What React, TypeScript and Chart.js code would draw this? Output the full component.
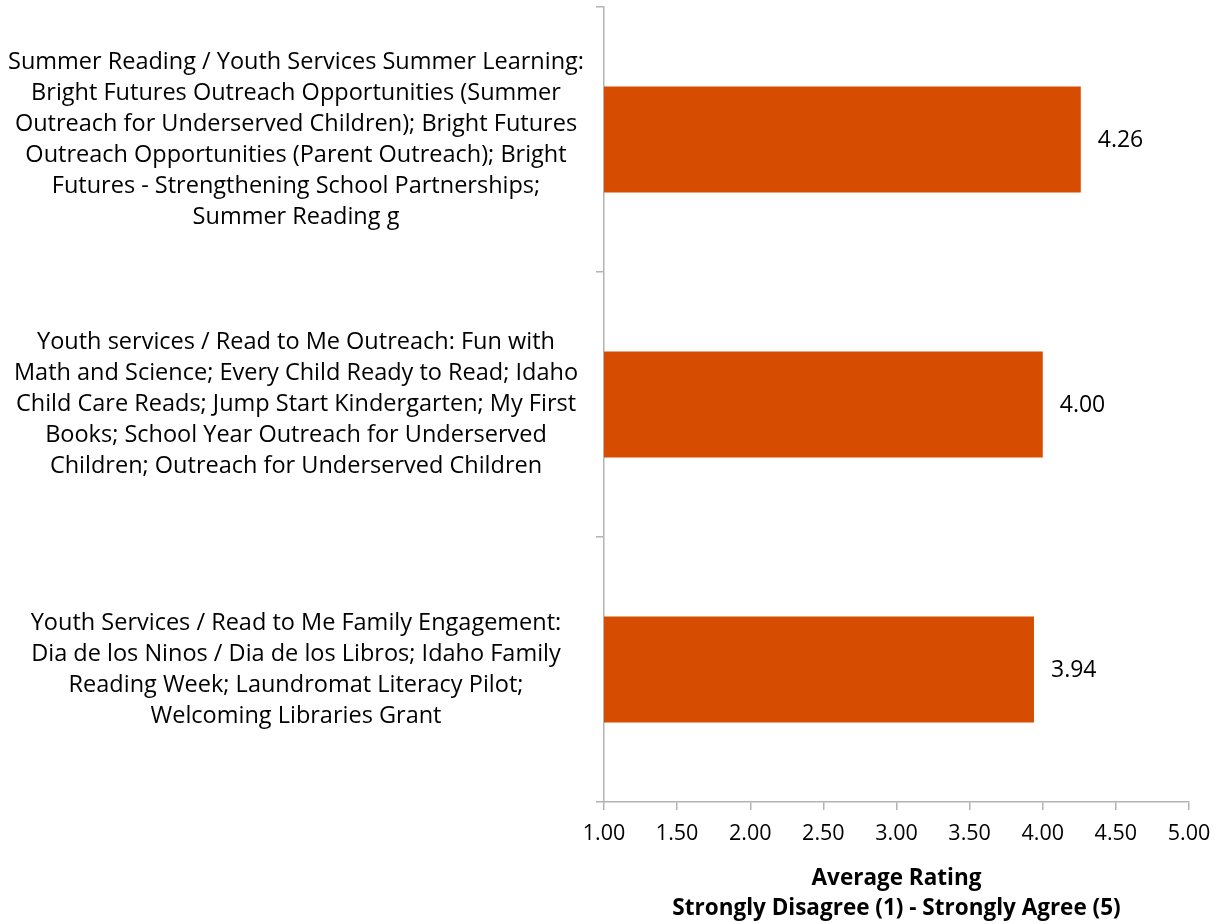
import React, { useEffect, useRef } from "react";
import { Chart, registerables } from "chart.js";

Chart.register(...registerables);

const categories: string[][] = [
  [
    "Summer Reading / Youth Services Summer Learning:",
    "Bright Futures Outreach Opportunities (Summer",
    "Outreach for Underserved Children); Bright Futures",
    "Outreach Opportunities (Parent Outreach); Bright",
    "Futures - Strengthening School Partnerships;",
    "Summer Reading g",
  ],
  [
    "Youth services / Read to Me Outreach: Fun with",
    "Math and Science; Every Child Ready to Read; Idaho",
    "Child Care Reads; Jump Start Kindergarten; My First",
    "Books; School Year Outreach for Underserved",
    "Children; Outreach for Underserved Children",
  ],
  [
    "Youth Services / Read to Me Family Engagement:",
    "Dia de los Ninos / Dia de los Libros; Idaho Family",
    "Reading Week; Laundromat Literacy Pilot;",
    "Welcoming Libraries Grant",
  ],
];

const ratings: number[] = [4.26, 4.0, 3.94];

const xTitle: string[] = ["Average Rating", "Strongly Disagree (1) - Strongly Agree (5)"];

const FONT = "'Open Sans', Lato, sans-serif";
const BAR_COLOR = "#D64C00";
const AXIS_COLOR = "#B3B3B3";

const valueLabelPlugin = {
  id: "valueLabels",
  afterDatasetsDraw(chart: any) {
    const ctx = chart.ctx;
    const meta = chart.getDatasetMeta(0);
    ctx.save();
    ctx.font = `23px ${FONT}`;
    ctx.fillStyle = "#000";
    ctx.textAlign = "left";
    ctx.textBaseline = "middle";
    meta.data.forEach((bar: any, i: number) => {
      const v = chart.data.datasets[0].data[i] as number;
      ctx.fillText(v.toFixed(2), bar.x + 17, bar.y + 1);
    });
    ctx.restore();
  },
};

export default function App() {
  const ref = useRef<HTMLCanvasElement | null>(null);
  useEffect(() => {
    document.body.style.margin = "0";
    const canvas = ref.current!;
    const chart = new Chart(canvas, {
      type: "bar",
      data: {
        labels: categories,
        datasets: [
          {
            data: ratings,
            backgroundColor: BAR_COLOR,
            borderWidth: 0,
            barPercentage: 0.4,
            categoryPercentage: 1,
          },
        ],
      },
      options: {
        indexAxis: "y",
        animation: false,
        responsive: false,
        maintainAspectRatio: false,
        layout: { padding: { top: 7, right: 32, left: 0, bottom: 0 } },
        plugins: {
          legend: { display: false },
          tooltip: { enabled: false },
        },
        scales: {
          x: {
            min: 1,
            max: 5,
            ticks: {
              stepSize: 0.5,
              callback: (v: any) => Number(v).toFixed(2),
              color: "#000",
              font: { family: FONT, size: 21.5 },
              padding: 11,
              maxRotation: 0,
            },
            grid: {
              drawOnChartArea: false,
              drawTicks: true,
              tickLength: 8,
              color: AXIS_COLOR,
              lineWidth: 1.5,
            },
            border: { color: AXIS_COLOR, width: 1.5 },
            title: {
              display: true,
              text: xTitle,
              color: "#000",
              font: { family: FONT, size: 22.5, weight: "bold", lineHeight: 30 / 22.5 },
              padding: { top: 4, bottom: 0 },
            },
            afterFit: (scale: any) => {
              scale.height = 122;
              scale.paddingLeft = 0;
              scale.paddingRight = 0;
            },
          },
          y: {
            ticks: {
              color: "#000",
              font: { family: FONT, size: 23.5, lineHeight: 31 / 23.5 },
              crossAlign: "center",
              padding: 12,
              autoSkip: false,
            },
            grid: {
              offset: true,
              drawOnChartArea: false,
              drawTicks: true,
              tickLength: 8,
              color: AXIS_COLOR,
              lineWidth: 1.5,
            },
            border: { color: AXIS_COLOR, width: 1.5 },
            afterFit: (scale: any) => {
              scale.width = 604;
              scale.paddingTop = 0;
              scale.paddingBottom = 0;
            },
          },
        },
      },
      plugins: [valueLabelPlugin],
    });
    return () => chart.destroy();
  }, []);
  return (
    <div style={{ width: 1221, height: 924 }}>
      <canvas ref={ref} width={1221} height={924} style={{ display: "block" }} />
    </div>
  );
}
